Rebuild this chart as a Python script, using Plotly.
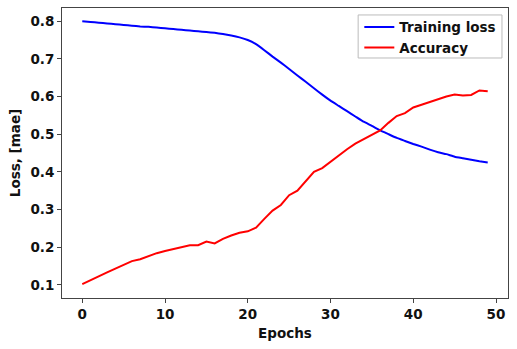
import plotly.graph_objects as go

epochs = list(range(50))
training_loss = [0.800, 0.798, 0.796, 0.794, 0.792, 0.790, 0.788, 0.786, 0.785, 0.783,
                 0.781, 0.779, 0.777, 0.775, 0.773, 0.771, 0.769, 0.766, 0.762, 0.757,
                 0.750, 0.739, 0.723, 0.706, 0.690, 0.673, 0.656, 0.639, 0.622, 0.605,
                 0.589, 0.575, 0.561, 0.547, 0.533, 0.522, 0.510, 0.500, 0.490, 0.482,
                 0.474, 0.467, 0.459, 0.452, 0.447, 0.440, 0.436, 0.432, 0.428, 0.425]
accuracy = [0.102, 0.113, 0.122, 0.133, 0.143, 0.153, 0.163, 0.168, 0.177, 0.184,
            0.190, 0.195, 0.200, 0.205, 0.205, 0.215, 0.210, 0.222, 0.231, 0.238,
            0.242, 0.252, 0.275, 0.297, 0.312, 0.338, 0.350, 0.375, 0.400, 0.410,
            0.427, 0.443, 0.460, 0.475, 0.487, 0.497, 0.510, 0.530, 0.548, 0.556,
            0.571, 0.578, 0.586, 0.593, 0.600, 0.605, 0.603, 0.604, 0.616, 0.614]
x_ticks = [0, 10, 20, 30, 40, 50]
y_ticks = [0.1, 0.2, 0.3, 0.4, 0.5, 0.6, 0.7, 0.8]

font = "DejaVu Sans"
fs = 13.5
fig = go.Figure()
fig.add_trace(go.Scatter(x=epochs, y=training_loss, mode="lines", name="<b>Training loss</b>",
                         line=dict(color="#0000ff", width=2, shape="spline", smoothing=0.3)))
fig.add_trace(go.Scatter(x=epochs, y=accuracy, mode="lines", name="<b>Accuracy</b>",
                         line=dict(color="#ff0000", width=2)))

axis_common = dict(showgrid=False, zeroline=False, showline=True, linecolor="#444", linewidth=1,
                   mirror=True, ticks="outside", ticklen=4, tickwidth=1, tickcolor="#444",
                   tickfont=dict(family=font, size=fs, color="#111"))
fig.update_xaxes(range=[-2.45, 51.45], tickvals=x_ticks, ticktext=[f"<b>{v}</b>" for v in x_ticks],
                 title=dict(text="<b>Epochs</b>", font=dict(family=font, size=fs, color="#111"), standoff=7),
                 **axis_common)
fig.update_yaxes(range=[0.065, 0.835], tickvals=y_ticks, ticktext=[f"<b>{v:.1f}</b>" for v in y_ticks],
                 title=dict(text="<b>Loss, [mae]</b>", font=dict(family=font, size=fs, color="#111"), standoff=6),
                 **axis_common)
# legend frame (matplotlib style box)
fig.add_shape(type="rect", xref="paper", yref="paper", x0=0.664, x1=0.9865, y0=0.8276, y1=0.976,
              line=dict(color="#bbbbbb", width=1), fillcolor="rgba(255,255,255,0.8)", layer="above")
fig.update_layout(
    width=517, height=349,
    margin=dict(l=62, r=9, t=8, b=51),
    plot_bgcolor="white", paper_bgcolor="white",
    font=dict(family=font, size=fs, color="#111"),
    legend=dict(x=0.985, y=0.987, xanchor="right", yanchor="top",
                bgcolor="rgba(0,0,0,0)", borderwidth=0,
                font=dict(family=font, size=fs, color="#111"), tracegroupgap=0,
                itemwidth=30),
    showlegend=True,
)
fig.write_html("out.html")
